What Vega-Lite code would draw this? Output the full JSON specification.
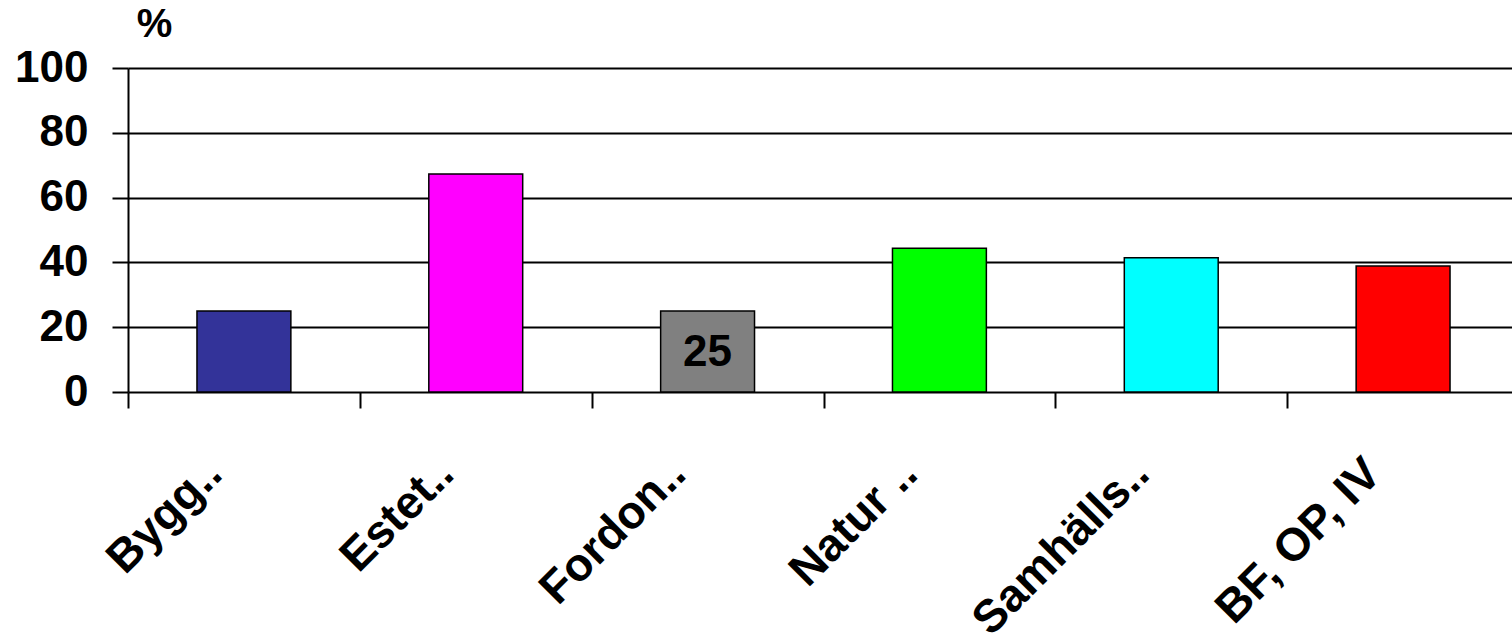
{
  "$schema": "https://vega.github.io/schema/vega-lite/v6.json",
  "autosize": {"type": "none"},
  "width": 1391,
  "height": 324,
  "padding": {"left": 128, "top": 68, "right": 0, "bottom": 241},
  "background": "white",
  "config": {
    "view": {"stroke": null},
    "font": "Liberation Sans"
  },
  "data": {
    "values": [
      {"program": "Bygg..", "pct": 25, "color": "#333399", "label": ""},
      {"program": "Estet..", "pct": 67.3, "color": "#FF00FF", "label": ""},
      {"program": "Fordon..", "pct": 25, "color": "#808080", "label": "25"},
      {"program": "Natur ..", "pct": 44.4, "color": "#00FF00", "label": ""},
      {"program": "Samhälls..", "pct": 41.4, "color": "#00FFFF", "label": ""},
      {"program": "BF, OP, IV", "pct": 38.9, "color": "#FF0000", "label": ""}
    ]
  },
  "encoding": {
    "x": {
      "field": "program",
      "type": "nominal",
      "sort": null,
      "scale": {"paddingInner": 0, "paddingOuter": 0},
      "axis": {
        "title": null,
        "domain": false,
        "tickBand": "extent",
        "tickColor": "black",
        "tickWidth": 2,
        "tickSize": 16,
        "labelAngle": -45,
        "labelAlign": "right",
        "labelBaseline": "middle",
        "labelFont": "Liberation Sans",
        "labelFontWeight": "bold",
        "labelFontSize": 46,
        "labelColor": "black",
        "labelPadding": 58,
        "labelOffset": -30,
        "labelLimit": 0,
        "labelOverlap": false
      }
    }
  },
  "layer": [
    {
      "mark": {"type": "bar", "stroke": "black", "strokeWidth": 1.5, "width": {"band": 0.405}},
      "encoding": {
        "y": {
          "field": "pct",
          "type": "quantitative",
          "scale": {"domain": [0, 100], "nice": false},
          "axis": {
            "values": [0, 20, 40, 60, 80, 100],
            "title": "%",
            "titleAngle": 0,
            "titleX": 26,
            "titleY": -24,
            "titleAlign": "center",
            "titleBaseline": "bottom",
            "titleFont": "Liberation Sans",
            "titleFontSize": 40,
            "titleFontWeight": "bold",
            "titleColor": "black",
            "domainColor": "black",
            "domainWidth": 2,
            "tickColor": "black",
            "tickWidth": 2,
            "tickSize": 16,
            "grid": true,
            "gridColor": "black",
            "gridWidth": 2,
            "gridOpacity": 1,
            "labelFont": "Liberation Sans",
            "labelFontWeight": "bold",
            "labelFontSize": 44,
            "labelColor": "black",
            "labelPadding": 24,
            "labelOverlap": false
          }
        },
        "color": {"field": "color", "type": "nominal", "scale": null, "legend": null}
      }
    },
    {
      "transform": [{"filter": "datum.label != ''"}],
      "mark": {"type": "text", "font": "Liberation Sans", "fontWeight": "bold", "fontSize": 44, "color": "black", "baseline": "middle", "align": "center"},
      "encoding": {
        "y": {"datum": 12, "type": "quantitative"},
        "text": {"field": "label"}
      }
    }
  ]
}
